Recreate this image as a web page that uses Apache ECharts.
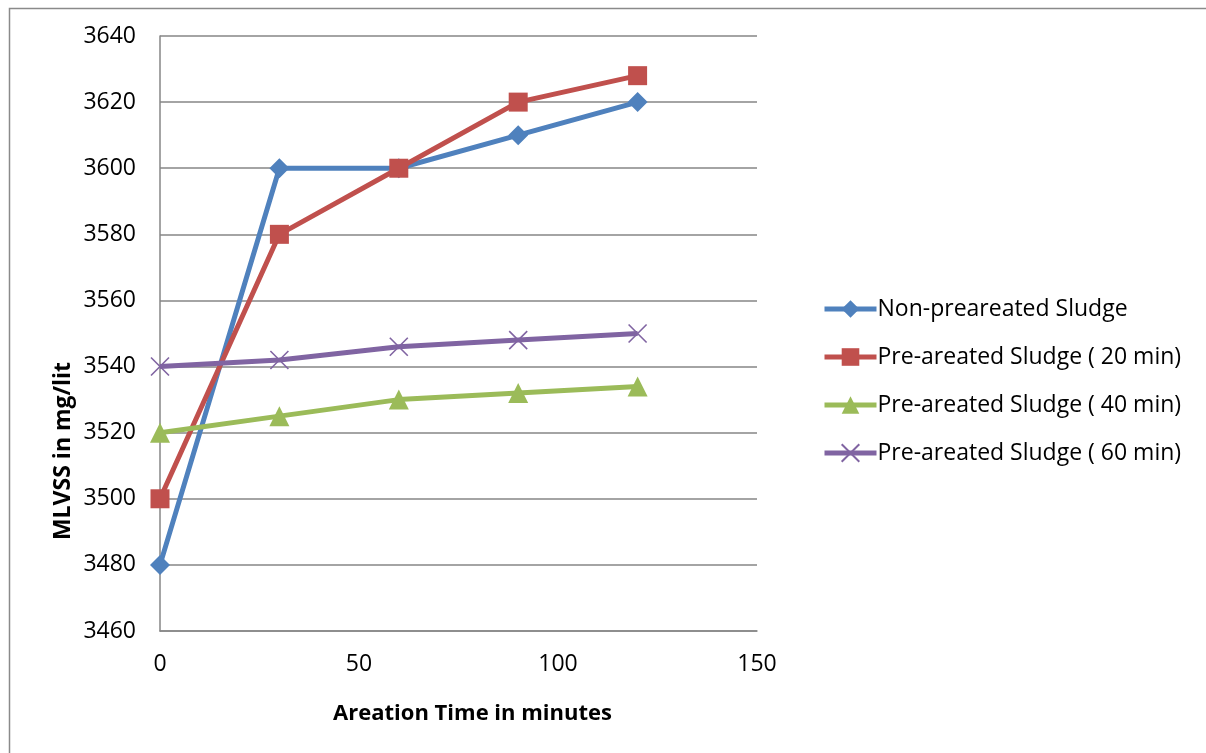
<!DOCTYPE html>
<html>
<head>
<meta charset="utf-8">
<script src="https://cdn.jsdelivr.net/npm/echarts@6/dist/echarts.min.js"></script>
<style>
html,body{margin:0;padding:0;background:#fff;}
#chart{width:1206px;height:753px;}
</style>
</head>
<body>
<div id="chart"></div>
<script>
const xValues = [0, 30, 60, 90, 120];
const seriesNames = ['Non-preareated Sludge', 'Pre-areated Sludge ( 20 min)', 'Pre-areated Sludge ( 40 min)', 'Pre-areated Sludge ( 60 min)'];
const nonPre = [3480, 3600, 3600, 3610, 3620];
const pre20 = [3500, 3580, 3600, 3620, 3628];
const pre40 = [3520, 3525, 3530, 3532, 3534];
const pre60 = [3540, 3542, 3546, 3548, 3550];
const xTitle = 'Areation Time in minutes';
const yTitle = 'MLVSS in mg/lit';
const colors = ['#4F81BD', '#C0504D', '#9BBB59', '#8064A2'];
const symbols = ['diamond', 'rect', 'triangle', 'path://M0,0L10,10M10,0L0,10'];
const allValues = [nonPre, pre20, pre40, pre60];

const font = '"Open Sans", "Noto Sans", sans-serif';
const chart = echarts.init(document.getElementById('chart'));
const sizes = [20, 19, 20, 18];
const series = allValues.map((vals, i) => ({
  name: seriesNames[i],
  type: 'line',
  data: xValues.map((x, j) => [x, vals[j]]),
  symbol: symbols[i],
  symbolSize: sizes[i],
  showSymbol: true,
  lineStyle: {color: colors[i], width: 5},
  itemStyle: i === 3 ? {color: colors[i], borderColor: colors[i], borderWidth: 1.6} : {color: colors[i], borderWidth: 0},
  animation: false
}));

chart.setOption({
  animation: false,
  graphic: [{
    type: 'rect', left: 7, top: 6,
    shape: {width: 1220, height: 770},
    style: {fill: 'none', stroke: '#8a8a8a', lineWidth: 1.5},
    silent: true
  }, {
    type: 'text', x: 63, y: 451, rotation: Math.PI / 2,
    style: {text: yTitle, fontFamily: font, fontSize: 23, fontWeight: 'bold', fill: '#000', textAlign: 'center', textVerticalAlign: 'middle'},
    silent: true
  }],
  grid: {left: 160, right: 449, top: 36, bottom: 122, containLabel: false},
  xAxis: {
    type: 'value', min: 0, max: 150, interval: 50,
    name: xTitle, nameLocation: 'middle', nameGap: 72,
    nameTextStyle: {fontFamily: font, fontSize: 22, fontWeight: 'bold', color: '#000', padding: [0, 0, 0, 28]},
    axisLine: {show: true, lineStyle: {color: '#868686', width: 1.5}},
    axisTick: {show: false},
    splitLine: {show: false},
    axisLabel: {fontFamily: font, fontSize: 23, color: '#000', margin: 22}
  },
  yAxis: {
    type: 'value', min: 3460, max: 3640, interval: 20,
    axisLine: {show: true, lineStyle: {color: '#868686', width: 1.5}},
    axisTick: {show: false},
    splitLine: {show: true, lineStyle: {color: '#868686', width: 1.5}},
    axisLabel: {fontFamily: font, fontSize: 23, color: '#000', margin: 24, formatter: v => String(v)}
  },
  legend: {
    orient: 'vertical', left: 817, top: 292,
    itemWidth: 52, itemHeight: 22, itemGap: 24,
    lineStyle: {width: 5},
    textStyle: {fontFamily: font, fontSize: 23, color: '#000', lineHeight: 24, padding: [0, 0, 0, -4]},
    data: seriesNames
  },
  series: series
});
</script>
</body>
</html>
